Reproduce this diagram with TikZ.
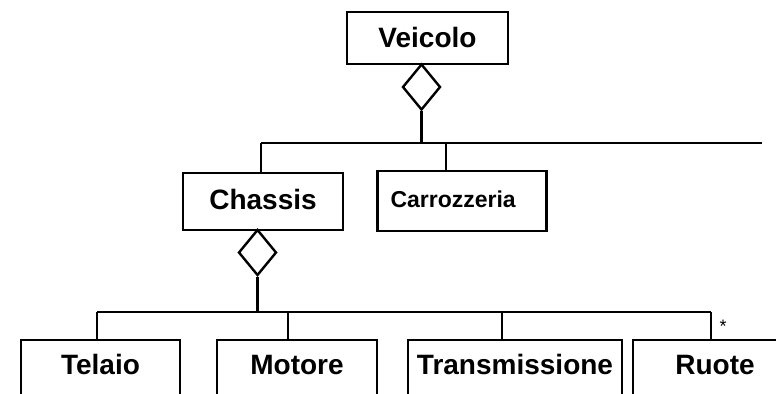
\documentclass[tikz,border=0pt]{standalone}
\usepackage{fontspec}
\setmainfont{Liberation Sans}
\usetikzlibrary{shapes.geometric, positioning}

\begin{document}
\begin{tikzpicture}[
    x=0.5pt, y=-0.5pt,
    cls/.style={
        draw=black,
        line width=1.2pt,
        inner sep=0pt,
        text height=10pt,
        text depth=2.5pt,
        font=\fontsize{14}{16}\selectfont\bfseries,
    },
    part/.style={
        cls,
        text depth=4pt,
        minimum height=28pt,
    },
    agg/.style={
        diamond,
        draw=black,
        line width=1.2pt,
        inner sep=0pt,
        minimum width=19pt,
        minimum height=23pt,
    },
    link/.style={
        line width=1.2pt,
    },
    mult/.style={
        font=\fontsize{9}{10}\selectfont,
        inner sep=0pt,
    },
]

\useasboundingbox (0,0) rectangle (776,393);
\clip (0,0) rectangle (776,393);

% --- Top: Veicolo and its aggregation diamond ---
\node[cls, text depth=0.5pt, minimum width=80.5pt, minimum height=26pt] (veicolo) at (427.5,38) {Veicolo};
\node[agg] (aggV) at (421.5,87) {};

% --- Middle row ---
\node[cls, minimum width=80pt, minimum height=28.5pt] (chassis) at (263,201.5) {Chassis};
\node[cls, font=\fontsize{11.5}{13}\selectfont\bfseries,
    text width=71.5pt, inner xsep=6.5pt, align=left,
    text height=8.5pt, text depth=2.5pt,
    minimum height=30pt] (carro) at (462,201) {Carrozzeria};
\node[agg] (aggC) at (257.5,252.5) {};

% --- Bottom row, open below the picture edge ---
\node[part, minimum width=79.5pt] (telaio) at (100.5,368) {Telaio};
\node[part, minimum width=80pt] (motore) at (297,368) {Motore};
\node[part, minimum width=107pt] (trasm) at (515,368) {Transmissione};
\node[part, minimum width=82pt] (ruote) at (715,368) {Ruote};

% --- Bus lines ---
\coordinate (busA) at (261,143);
\coordinate (busAend) at (762,143);
\coordinate (tapCarro) at (446,143);
\coordinate (busB) at (97,312);
\coordinate (busBend) at (711,312);
\coordinate (tapMotore) at (288,312);
\coordinate (tapTrasm) at (502,312);

% Veicolo -> parts
\draw[link] (aggV.south) -- (aggV.south |- busA);
\draw[link] (busA) -- (busAend);
\draw[link] (busA) -- (busA |- chassis.north);
\draw[link] (tapCarro) -- (tapCarro |- carro.north);

% Chassis -> parts
\draw[link] (aggC.south) -- (aggC.south |- busB);
\draw[link] (busB) -- (busBend);
\draw[link] (busB) -- (busB |- telaio.north);
\draw[link] (tapMotore) -- (tapMotore |- motore.north);
\draw[link] (tapTrasm) -- (tapTrasm |- trasm.north);
\draw[link] (busBend) -- (busBend |- ruote.north);
\node[mult] (star) at (723,326) {*};

\end{tikzpicture}
\end{document}
